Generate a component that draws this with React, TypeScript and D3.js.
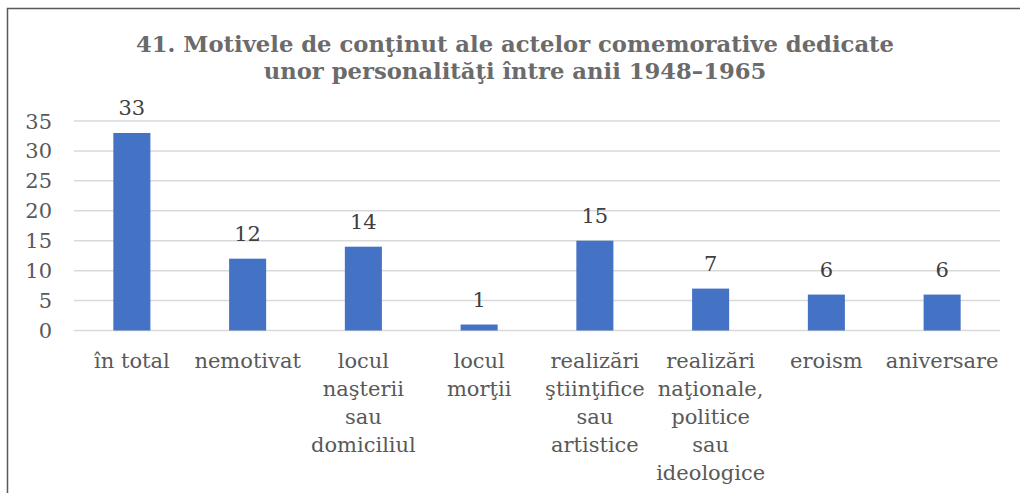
import React from "react";
import * as d3 from "d3";

const categories = [
  "în total",
  "nemotivat",
  "locul\nnaşterii\nsau\ndomiciliul",
  "locul\nmorţii",
  "realizări\nştiinţifice\nsau\nartistice",
  "realizări\nnaţionale,\npolitice\nsau\nideologice",
  "eroism",
  "aniversare",
];
const values = [33, 12, 14, 1, 15, 7, 6, 6];
const yTicks = [0, 5, 10, 15, 20, 25, 30, 35];
const titleLines = [
  "41. Motivele de conţinut ale actelor comemorative dedicate",
  "unor personalităţi între anii 1948–1965",
];

const W = 1020;
const H = 493;
const font = "'DejaVu Serif', serif";

const App = () => {
  const x = d3
    .scaleBand<number>()
    .domain(d3.range(categories.length))
    .range([74, 1000])
    .paddingInner(0.68)
    .paddingOuter(0.34);
  const y = d3.scaleLinear().domain([0, 35]).range([330.5, 121]);

  return (
    <svg
      width={W}
      height={H}
      style={{ position: "absolute", left: 0, top: 0, background: "#fff" }}
    >
      <rect x={7.5} y={8.5} width={1040} height={520} fill="#fff" stroke="#595959" strokeWidth={1.5} />

      <g fontFamily={font} fontWeight="bold" fontSize={22.7} fill="#6b6b6b" textAnchor="middle">
        {titleLines.map((t, i) => (
          <text key={i} x={515} y={52 + i * 27}>
            {t}
          </text>
        ))}
      </g>

      {yTicks.map((t) => (
        <g key={t}>
          <line x1={74} x2={1000} y1={y(t)} y2={y(t)} stroke="#d9d9d9" strokeWidth={1.5} />
          <text
            x={52}
            y={y(t)}
            dy="0.36em"
            textAnchor="end"
            fontFamily={font}
            fontSize={21}
            fill="#595959"
          >
            {t}
          </text>
        </g>
      ))}

      {values.map((v, i) => (
        <g key={i}>
          <rect
            x={x(i)}
            y={y(v)}
            width={x.bandwidth()}
            height={y(0) - y(v)}
            fill="#4472C4"
          />
          <text
            x={(x(i) as number) + x.bandwidth() / 2}
            y={y(v) - 18}
            textAnchor="middle"
            fontFamily={font}
            fontSize={21}
            fill="#404040"
          >
            {v}
          </text>
        </g>
      ))}

      {categories.map((c, i) => (
        <text
          key={i}
          x={(x(i) as number) + x.bandwidth() / 2}
          y={368}
          textAnchor="middle"
          fontFamily={font}
          fontSize={21}
          fill="#595959"
        >
          {c.split("\n").map((l, j) => (
            <tspan key={j} x={(x(i) as number) + x.bandwidth() / 2} dy={j === 0 ? 0 : 28}>
              {l}
            </tspan>
          ))}
        </text>
      ))}
    </svg>
  );
};

export default App;
